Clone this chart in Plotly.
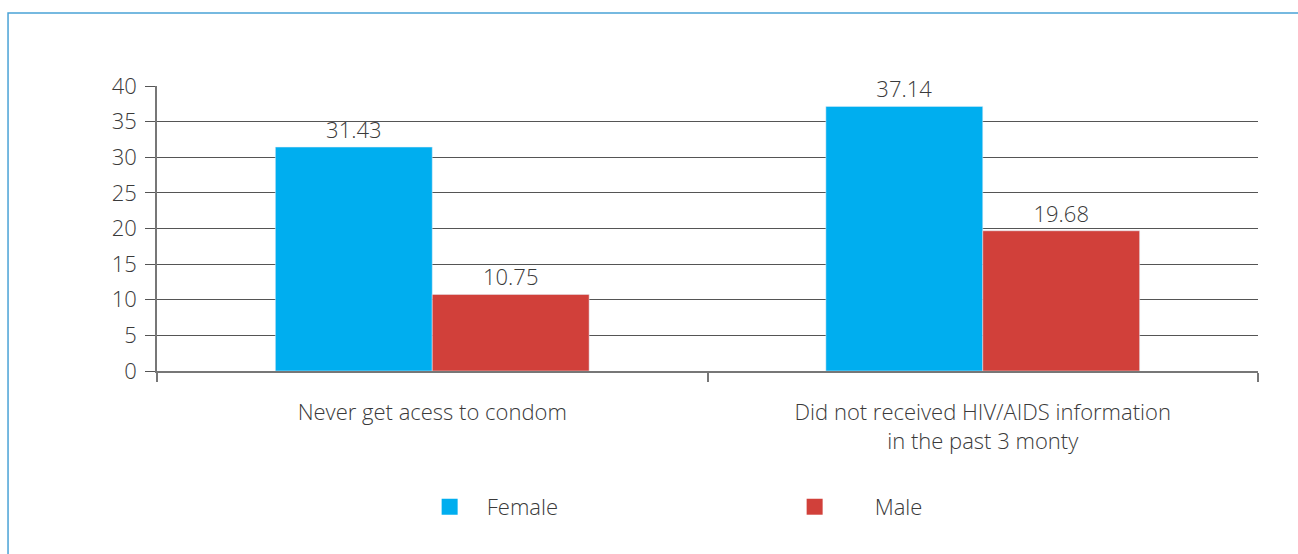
import plotly.graph_objects as go

categories = ["Never get acess to condom",
              "Did not received HIV/AIDS information<br>in the past 3 monty"]
female = [31.43, 37.14]
male = [10.75, 19.68]
y_ticks = [0, 5, 10, 15, 20, 25, 30, 35, 40]

FEMALE_COLOR = "#00AEEF"
MALE_COLOR = "#D1403A"
TEXT_COLOR = "#3A3A3A"
FONT = "Open Sans"
FSIZE = 22

fig = go.Figure()
fig.add_trace(go.Bar(
    x=categories, y=female, name="Female", marker_color=FEMALE_COLOR,
    text=[f"{v:.2f}" for v in female], textposition="outside",
    textfont=dict(size=FSIZE, color=TEXT_COLOR, weight=300),
    cliponaxis=False, showlegend=False,
))
fig.add_trace(go.Bar(
    x=categories, y=male, name="Male", marker_color=MALE_COLOR,
    text=[f"{v:.2f}" for v in male], textposition="outside",
    textfont=dict(size=FSIZE, color=TEXT_COLOR, weight=300),
    cliponaxis=False, showlegend=False,
))

# legend entries with larger square swatches
for name, color, pad in [("Female", FEMALE_COLOR, 3), ("Male", MALE_COLOR, 7)]:
    fig.add_trace(go.Scatter(
        x=[None], y=[None], mode="markers", name="\u00a0" * pad + name,
        marker=dict(symbol="square", size=18, color=color),
    ))

# light blue frame along top and left edges
fig.add_shape(type="path", xref="paper", yref="paper",
              path="M -0.1353,-0.70 L -0.1353,1.2561 L 1.05,1.2561",
              line=dict(color="#4AA3D6", width=1.5))

fig.update_layout(
    width=1298, height=554,
    margin=dict(l=157, r=40, t=86, b=183),
    plot_bgcolor="white", paper_bgcolor="white",
    barmode="group", bargap=0.43, bargroupgap=0,
    font=dict(family=FONT, size=FSIZE, color=TEXT_COLOR, weight=300),
    xaxis=dict(
        showline=True, linecolor="#777", linewidth=1.5,
        ticks="outside", tickson="boundaries", ticklen=9, tickcolor="#777",
        tickwidth=1.5, tickfont=dict(size=FSIZE, color=TEXT_COLOR, weight=300),
        ticklabelstandoff=21,
    ),
    yaxis=dict(
        range=[0, 40], tickvals=y_ticks, showgrid=True,
        gridcolor="#555", gridwidth=1, zeroline=False,
        showline=True, linecolor="#777", linewidth=1.5,
        ticks="outside", ticklen=10, tickcolor="#555",
        tickfont=dict(size=FSIZE, color=TEXT_COLOR, weight=300),
        ticklabelstandoff=4,
    ),
    legend=dict(
        orientation="h", xref="container", yref="container",
        x=0.331, xanchor="left", y=0.085, yanchor="middle",
        entrywidth=320, entrywidthmode="pixels",
        font=dict(size=FSIZE, color=TEXT_COLOR, weight=300), itemsizing="trace",
    ),
)

fig.write_html("out.html")
